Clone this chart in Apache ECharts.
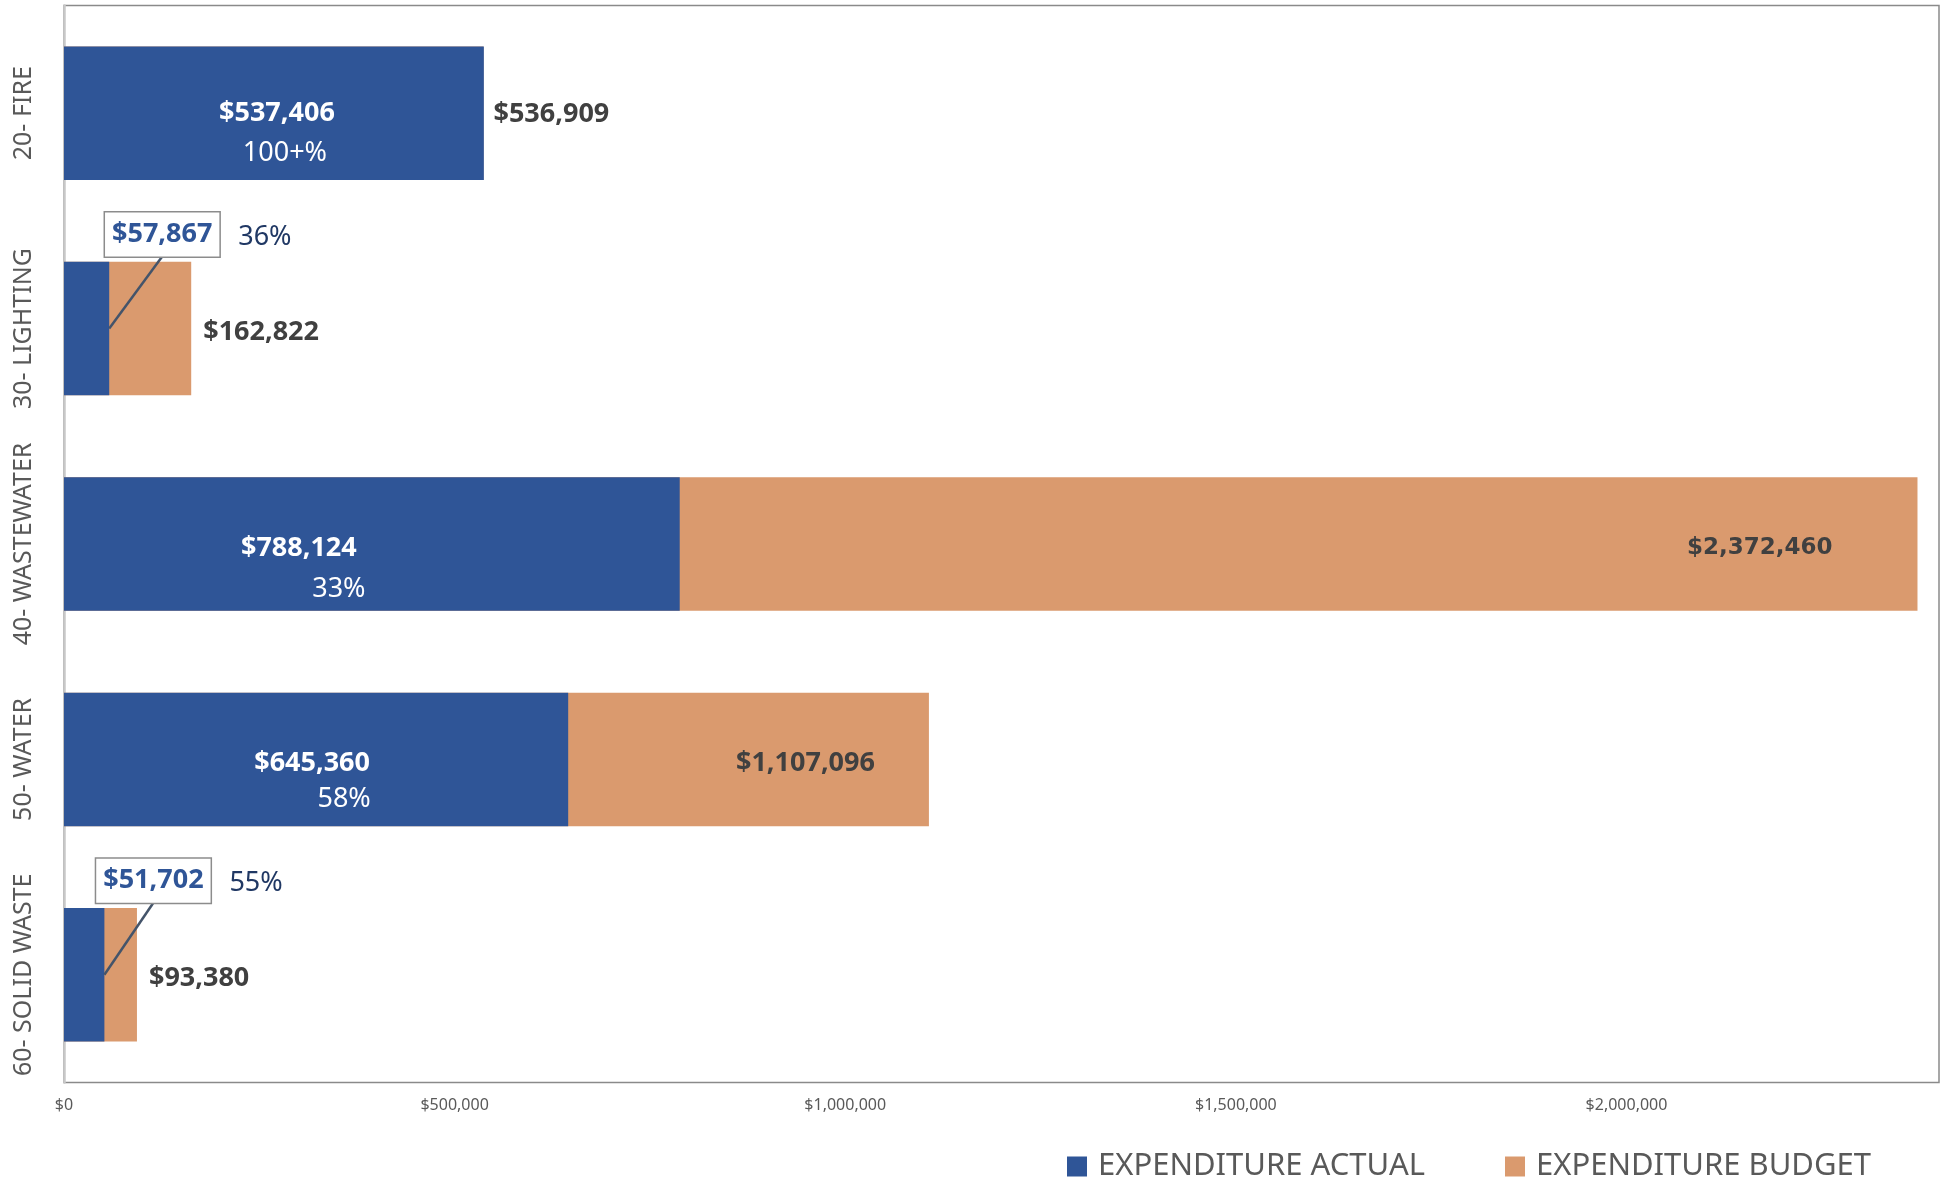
<!DOCTYPE html>
<html><head><meta charset="utf-8">
<script src="https://cdn.jsdelivr.net/npm/echarts@6/dist/echarts.min.js"></script>
<style>html,body{margin:0;padding:0;background:#fff}#chart{width:1946px;height:1181px}</style>
</head><body><div id="chart"></div>
<script>
// ---- data ----
const categories = ['20- FIRE', '30- LIGHTING', '40- WASTEWATER', '50- WATER', '60- SOLID WASTE'];
const actual = [537406, 57867, 788124, 645360, 51702];
const budget = [536909, 162822, 2372460, 1107096, 93380];
const pctLabels = ['100+%', '36%', '33%', '58%', '55%'];
const xTicks = [0, 500000, 1000000, 1500000, 2000000];
const seriesNames = ['EXPENDITURE ACTUAL', 'EXPENDITURE BUDGET'];

// ---- styles ----
const BLUE = '#2F5597', ORANGE = '#DA9A6E', DARK = '#404040', GRAY = '#595959', NAVY = '#203864';
const FONT = '"Noto Sans", sans-serif';
const money = v => '$' + Math.round(v).toLocaleString('en-US');

const budgetLabelStyle = [
  { position: 'right', distance: 10, dy: 1 },
  { position: 'right', distance: 12, dy: 4 },
  { position: 'insideRight', distance: 85, dy: 4, fontFamily: '"DejaVu Sans", sans-serif', fontSize: 23 },
  { position: 'insideRight', distance: 54, dy: 4 },
  { position: 'right', distance: 12, dy: 4 }
];
const actualLabelStyle = [
  { offset: [3, 20], pctShift: 8, lh: 40 },
  null,
  { offset: [-73, 25], pctShift: 40, lh: 41 },
  { offset: [-4, 22], pctShift: 32, lh: 36 },
  null
];
const calloutStyle = { 1: { dx: 53, dy: -72 }, 4: { dx: 49, dy: -72 } };
const calloutIdx = [1, 4];

const budgetData = budget.map((v, i) => {
  const s = budgetLabelStyle[i];
  return {
    value: v,
    label: {
      show: true, position: s.position, distance: s.distance, offset: [0, s.dy],
      formatter: money(v),
      fontFamily: s.fontFamily || FONT, fontSize: s.fontSize || 27,
      fontWeight: 'bold', color: DARK
    }
  };
});

const actualData = actual.map((v, i) => {
  const s = actualLabelStyle[i];
  if (!s) return { value: v, label: { show: false } };
  return {
    value: v,
    label: {
      show: true, position: 'inside', offset: s.offset,
      formatter: '{v|' + money(v) + '}\n{p|' + pctLabels[i] + '}',
      rich: {
        v: { color: '#fff', fontFamily: FONT, fontWeight: 'bold', fontSize: 27, lineHeight: s.lh, align: 'center' },
        p: { color: '#fff', fontFamily: FONT, fontSize: 27, lineHeight: s.lh, align: 'center', padding: [0, 0, 0, 2 * s.pctShift] }
      }
    }
  };
});

const calloutData = calloutIdx.map(i => [actual[i], i]);

const chart = echarts.init(document.getElementById('chart'), null, { renderer: 'canvas' });
chart.setOption({
  backgroundColor: '#fff',
  animation: false,
  grid: {
    left: 64, right: 7, top: 5.5, bottom: 98.5,
    show: true, borderColor: '#8a8a8a', borderWidth: 1.5,
    containLabel: false, outerBoundsMode: 'none'
  },
  legend: {
    data: seriesNames,
    left: 1067, top: 1151, padding: 0,
    icon: 'rect', itemWidth: 20, itemHeight: 20, itemGap: 80,
    textStyle: { fontFamily: FONT, fontSize: 31, color: GRAY, padding: [0, 0, 0, 6] }
  },
  xAxis: {
    type: 'value', min: xTicks[0], max: 2400000, interval: xTicks[1] - xTicks[0],
    axisLine: { show: false }, axisTick: { show: false }, splitLine: { show: false },
    axisLabel: {
      showMaxLabel: false,
      formatter: v => (xTicks.indexOf(v) >= 0 ? money(v) : ''),
      color: GRAY, fontFamily: FONT, fontSize: 16, margin: 15
    }
  },
  yAxis: {
    type: 'category', data: categories, inverse: true, z: 1,
    axisLine: { show: true, lineStyle: { color: '#c8c8c8', width: 2.5 } },
    axisTick: { show: false },
    axisLabel: { interval: 0, hideOverlap: false, rotate: 90, color: GRAY, fontFamily: FONT, fontSize: 25, margin: 28 }
  },
  series: [
    {
      name: seriesNames[1], type: 'bar', data: budgetData,
      barWidth: '62%', barGap: '-100%', z: 2,
      itemStyle: { color: ORANGE }
    },
    {
      name: seriesNames[0], type: 'bar', data: actualData,
      barWidth: '62%', barGap: '-100%', z: 3,
      itemStyle: { color: BLUE }
    },
    {
      type: 'custom', data: calloutData, z: 5, silent: true,
      encode: { x: 0, y: 1 },
      renderItem: (params, api) => {
        const val = api.value(0), idx = api.value(1);
        const s = calloutStyle[idx];
        const p = api.coord([val, idx]);
        const bx = p[0] + s.dx, by = p[1] + s.dy;
        return {
          type: 'group', children: [
            { type: 'line', shape: { x1: p[0], y1: p[1], x2: bx, y2: by }, style: { stroke: '#44546A', lineWidth: 2.5 } },
            { type: 'text', style: {
                text: money(val), x: bx, y: by, align: 'center', verticalAlign: 'bottom',
                fontFamily: FONT, fontWeight: 'bold', fontSize: 27, lineHeight: 34, fill: BLUE,
                backgroundColor: '#fff', borderColor: '#8c8c8c', borderWidth: 1.5, padding: [5, 7, 5, 7]
            } },
            { type: 'text', style: {
                text: pctLabels[idx], x: bx + 76, y: by - 19, align: 'left', verticalAlign: 'middle',
                fontFamily: FONT, fontSize: 27, fill: NAVY
            } }
          ]
        };
      }
    }
  ]
});
</script></body></html>
